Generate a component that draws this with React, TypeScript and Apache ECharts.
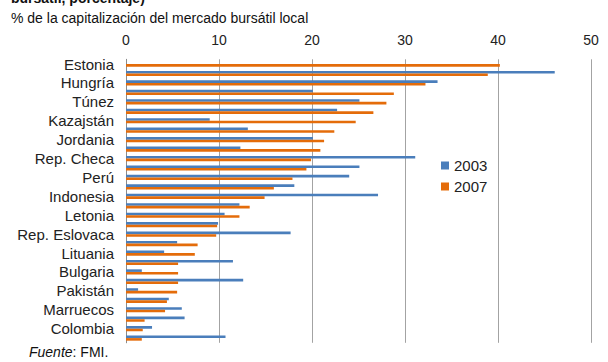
import React, { useEffect, useRef } from "react";
import * as echarts from "echarts";

// Countries, top to bottom (sorted by the 2007 share); only every other name is printed
const countries = [
  "Estonia", "Polonia", "Hungría", "Turquía", "Túnez", "Rumania",
  "Kazajstán", "Brasil", "Jordania", "Sudáfrica", "Rep. Checa", "México",
  "Perú", "Corea", "Indonesia", "Tailandia", "Letonia", "Croacia",
  "Rep. Eslovaca", "Filipinas", "Lituania", "Malasia", "Bulgaria", "Chile",
  "Pakistán", "India", "Marruecos", "Argentina", "Colombia", "Egipto",
];

// % of local stock market capitalisation
const values2003: (number | null)[] = [
  null, 46.1, 33.5, 20.1, 25.1, 22.7,
  9.0, 13.1, 20.1, 12.3, 31.1, 25.1,
  24.0, 18.1, 27.1, 12.2, 10.6, 9.9,
  17.7, 5.5, 4.1, 11.5, 1.7, 12.6,
  1.3, 4.6, 6.0, 6.3, 2.8, 10.7,
];

const values2007: number[] = [
  40.2, 38.9, 32.2, 28.8, 28.0, 26.6,
  24.7, 22.4, 21.3, 20.9, 19.9, 19.4,
  17.9, 15.9, 14.9, 13.3, 12.2, 9.8,
  9.7, 7.7, 7.4, 5.6, 5.6, 5.6,
  5.5, 4.4, 4.2, 2.0, 1.8, 1.7,
];

const seriesNames = ["2003", "2007"];
const seriesColors = ["#4a7ebb", "#e46c0a"];

const FONT = "'Liberation Sans', Arial, sans-serif";

export default function App() {
  const ref = useRef<HTMLDivElement>(null);

  useEffect(() => {
    if (!ref.current) return;
    const chart = echarts.init(ref.current, null, { renderer: "svg" });
    chart.setOption({
      animation: false,
      backgroundColor: "#ffffff",
      textStyle: { fontFamily: FONT },
      grid: { left: 126, right: 17, top: 59.3, height: 283.5 },
      xAxis: {
        type: "value",
        position: "top",
        min: 0,
        max: 50,
        interval: 10,
        axisLine: { show: false },
        axisTick: { show: false },
        axisLabel: { fontSize: 14, color: "#222", margin: 12 },
        splitLine: { lineStyle: { color: "#a3a3a3", width: 1 } },
      },
      yAxis: {
        type: "category",
        inverse: true,
        data: countries,
        axisLine: { lineStyle: { color: "#8c8c8c", width: 1 } },
        axisTick: {
          alignWithLabel: true,
          interval: 0,
          length: 4,
          lineStyle: { color: "#8c8c8c" },
        },
        axisLabel: { interval: 1, fontSize: 15, color: "#222", margin: 12 },
      },
      legend: {
        orient: "vertical",
        left: 436,
        top: 153,
        icon: "rect",
        itemWidth: 8,
        itemHeight: 8,
        itemGap: 6,
        data: seriesNames,
        textStyle: { fontSize: 15, color: "#222", lineHeight: 15 },
      },
      series: [
        {
          name: seriesNames[0],
          type: "bar",
          data: values2003,
          barWidth: 2.6,
          barGap: "0%",
          itemStyle: { color: seriesColors[0] },
        },
        {
          name: seriesNames[1],
          type: "bar",
          data: values2007,
          barWidth: 2.6,
          barGap: "0%",
          itemStyle: { color: seriesColors[1] },
        },
      ],
      graphic: [
        {
          type: "text",
          left: 11,
          top: -9,
          style: {
            text: "bursátil, porcentaje)",
            font: `bold 14px ${FONT}`,
            fill: "#111",
          },
        },
        {
          type: "text",
          left: 11,
          top: 11,
          style: {
            text: "% de la capitalización del mercado bursátil local",
            font: `14px ${FONT}`,
            fill: "#111",
          },
        },
        {
          type: "text",
          left: 29,
          top: 345,
          style: {
            rich: {
              it: { font: `italic 14px ${FONT}`, fill: "#111" },
              n: { font: `14px ${FONT}`, fill: "#111" },
            },
            text: "{it|Fuente}{n|: FMI.}",
          },
        },
      ],
    });
    return () => chart.dispose();
  }, []);

  return (
    <div
      ref={ref}
      style={{ position: "fixed", left: 0, top: 0, width: 608, height: 362 }}
    />
  );
}
